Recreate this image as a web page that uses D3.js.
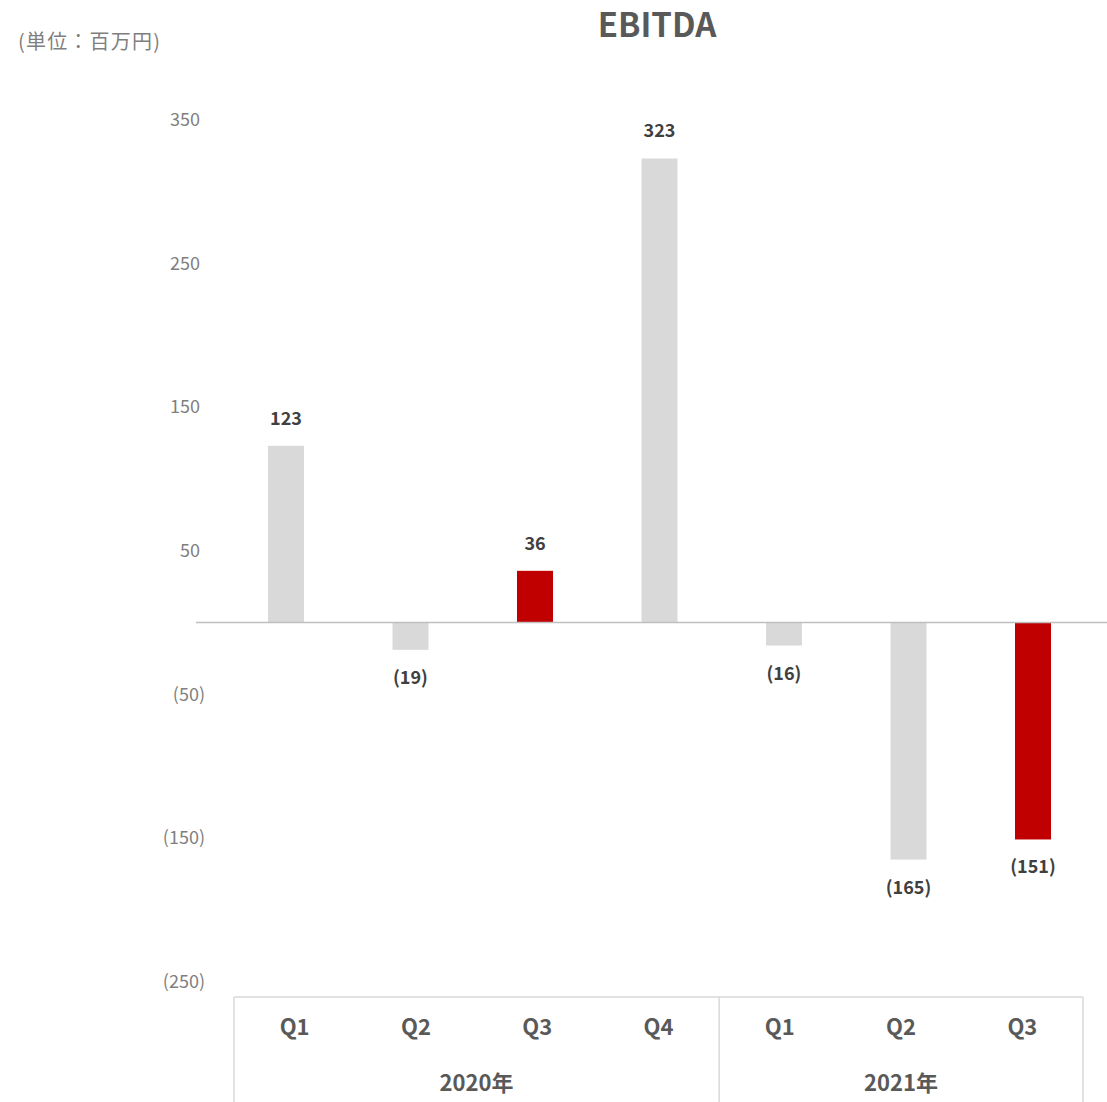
<!DOCTYPE html>
<html>
<head>
<meta charset="utf-8">
<script src="https://cdn.jsdelivr.net/npm/d3@7"></script>
<style>
  html, body { margin: 0; padding: 0; background: #fff; }
  svg { display: block; font-family: "Noto Sans CJK JP", "Noto Sans", sans-serif; }
</style>
</head>
<body>
<svg id="chart" width="1107" height="1102"></svg>
<script>
// EBITDA by quarter (millions of yen)
const quarters = ["2020-Q1", "2020-Q2", "2020-Q3", "2020-Q4", "2021-Q1", "2021-Q2", "2021-Q3"];
const quarterLabels = ["Q1", "Q2", "Q3", "Q4", "Q1", "Q2", "Q3"];
const ebitda = [123, -19, 36, 323, -16, -165, -151];
const highlighted = [false, false, true, false, false, false, true];
const years = ["2020年", "2021年"];
const quartersPerYear = [4, 3];
const yTicks = [350, 250, 150, 50, -50, -150, -250];

const svg = d3.select("#chart");

const fmt = v => v < 0 ? "(" + Math.abs(v) + ")" : String(v);

const y = d3.scaleLinear().domain([-250, 350]).range([981.7, 119.7]);
const x = d3.scaleBand().domain(quarters).range([223.75, 1095.25]).paddingInner(0).paddingOuter(0);
const barW = 36;

// Title and unit
svg.append("text").attr("x", 657).attr("y", 37).attr("text-anchor", "middle")
  .attr("font-size", 33).attr("font-weight", "bold").attr("fill", "#595959").text("EBITDA");
svg.append("text").attr("x", 18).attr("y", 49)
  .attr("font-size", 20).attr("letter-spacing", 1.2).attr("fill", "#7f7f7f").text("(単位：百万円)");

// Value axis (labels only); positive values keep a trailing gap the width of ")"
const yAxis = d3.axisLeft(y).tickValues(yTicks).tickFormat(fmt).tickSize(0).tickPadding(0);
const yg = svg.append("g").attr("transform", "translate(205,0)").call(yAxis);
yg.select(".domain").remove();
yg.selectAll("text").attr("font-size", 18).attr("fill", "#7f7f7f")
  .attr("font-family", "\"Noto Sans CJK JP\", sans-serif")
  .attr("dx", d => d >= 0 ? -5 : 0);

// Bars
svg.append("g").selectAll("rect").data(quarters).join("rect")
  .attr("x", d => x(d) + x.bandwidth() / 2 - barW / 2)
  .attr("width", barW)
  .attr("y", (d, i) => y(Math.max(0, ebitda[i])))
  .attr("height", (d, i) => Math.abs(y(ebitda[i]) - y(0)))
  .attr("fill", (d, i) => highlighted[i] ? "#c00000" : "#d9d9d9");

// Zero line
svg.append("line").attr("x1", 196).attr("x2", 1107).attr("y1", y(0)).attr("y2", y(0))
  .attr("stroke", "#bfbfbf").attr("stroke-width", 1.5);

// Data labels
svg.append("g").selectAll("text").data(quarters).join("text")
  .attr("x", d => x(d) + x.bandwidth() / 2)
  .attr("y", (d, i) => ebitda[i] >= 0 ? y(ebitda[i]) - 21 : y(ebitda[i]) + 34)
  .attr("text-anchor", "middle").attr("font-size", 18).attr("font-weight", "bold")
  .attr("fill", "#404040")
  .text((d, i) => fmt(ebitda[i]));

// Category axis (quarters grouped by year)
const catLeft = 234, catRight = 1083, catTop = 997, catBottom = 1102;
const xc = d3.scaleBand().domain(quarters).range([catLeft, catRight]);
const axisColor = "#d9d9d9";
const cat = svg.append("g");
cat.append("line").attr("x1", catLeft).attr("x2", catRight).attr("y1", catTop).attr("y2", catTop)
  .attr("stroke", axisColor).attr("stroke-width", 1.5);

let start = 0;
const bounds = [catLeft];
years.forEach((yr, k) => {
  const end = start + quartersPerYear[k];
  const x0 = xc(quarters[start]);
  const x1 = xc(quarters[end - 1]) + xc.bandwidth();
  bounds.push(x1);
  cat.append("text").attr("x", (x0 + x1) / 2).attr("y", 1091)
    .attr("text-anchor", "middle").attr("font-size", 22).attr("font-weight", "bold")
    .attr("fill", "#595959").text(yr);
  start = end;
});
cat.selectAll("line.sep").data(bounds).join("line").attr("class", "sep")
  .attr("x1", d => d).attr("x2", d => d).attr("y1", catTop).attr("y2", catBottom)
  .attr("stroke", axisColor).attr("stroke-width", 1.5);

cat.selectAll("text.q").data(quarters).join("text").attr("class", "q")
  .attr("x", d => xc(d) + xc.bandwidth() / 2).attr("y", 1035)
  .attr("text-anchor", "middle").attr("font-size", 22).attr("font-weight", "bold")
  .attr("fill", "#595959").text((d, i) => quarterLabels[i]);
</script>
</body>
</html>
